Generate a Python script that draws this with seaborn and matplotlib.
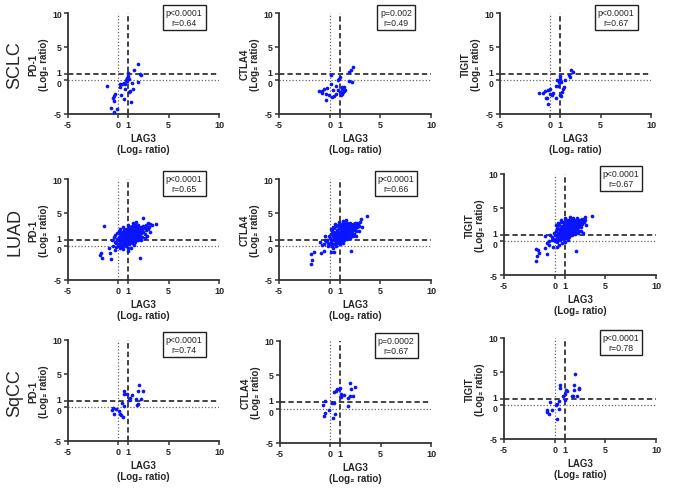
import matplotlib
matplotlib.use("Agg")
import matplotlib.pyplot as plt
import matplotlib.transforms as mtransforms
import seaborn as sns
import pandas as pd

# ---------------- data ----------------
row_names = ["SCLC", "LUAD", "SqCC"]
markers = ["PD-1", "CTLA4", "TIGIT"]
x_marker = "LAG3"
ticks = [-5, 0, 1, 5, 10]

stats = [
    ["p<0.0001\nr=0.64", "p=0.002\nr=0.49", "p<0.0001\nr=0.67"],
    ["p<0.0001\nr=0.65", "p<0.0001\nr=0.66", "p<0.0001\nr=0.67"],
    ["p<0.0001\nr=0.74", "p=0.0002\nr=0.67", "p<0.0001\nr=0.78"],
]

sclc_pd1 = [(1.92, 2.38), (1.56, 1.58), (1.0, 1.14), (2.19, 1.0), (2.29, 0.76), (1.0, 0.64),
            (0.89, 0.35), (0.8, 0.0), (1.95, -0.25), (1.36, -0.4), (0.53, -0.45), (0.2, -0.5),
            (-1.09, -0.79), (0.13, -1.0), (0.63, -1.24), (1.46, -1.34), (1.19, -1.53), (1.06, -1.73),
            (-0.3, -2.08), (0.23, -2.23), (-0.4, -2.33), (-0.5, -2.57), (0.53, -2.82), (-0.4, -3.12),
            (1.23, -3.22), (-0.7, -4.1), (-0.13, -4.2), (-0.46, -4.65), (0.33, -0.55), (0.89, -0.1),
            (1.09, 0.2), (0.7, -0.5)]
sclc_ctla4 = [(2.32, 1.98), (2.12, 1.58), (1.89, 1.24), (0.18, 0.79), (1.0, 0.45), (0.9, 0.15),
              (0.8, 0.0), (1.92, -0.1), (2.22, -0.2), (0.15, -0.5), (0.67, -0.84), (-0.22, -1.14),
              (1.23, -0.99), (1.43, -0.99), (-0.55, -1.34), (-1.08, -1.63), (-0.71, -1.63), (0.28, -1.49),
              (0.84, -1.49), (1.17, -1.34), (1.5, -1.49), (1.33, -1.78), (1.0, -1.73), (1.17, -1.98),
              (-0.38, -1.98), (0.67, -1.98), (-0.05, -2.23), (0.47, -2.33), (0.21, -2.48), (-0.32, -2.87),
              (1.4, -1.63), (1.07, -2.23), (-0.78, -1.83)]
sclc_tigit = [(2.1, 1.53), (2.27, 1.24), (1.87, 0.74), (1.94, 0.54), (0.95, 0.64), (0.98, 0.15),
              (0.68, 0.1), (1.44, 0.05), (0.85, -0.25), (1.05, -0.25), (0.55, -0.84), (0.78, -0.84),
              (1.34, -0.99), (1.28, -1.34), (-0.04, -1.34), (-0.21, -1.44), (-0.54, -1.58), (-1.1, -1.83),
              (-0.71, -1.83), (-0.04, -1.98), (0.29, -1.83), (1.14, -1.73), (0.98, -2.13), (0.55, -2.62),
              (-0.44, -2.57), (-0.31, -2.57), (-0.21, -3.56), (1.08, -2.33), (0.12, -2.23)]

luad_pd1 = [(-1.42, 3.09), (2.45, 4.23), (3.77, 3.34), (-1.69, -1.0), (-1.79, -1.35), (-1.59, -1.69),
            (-0.86, -1.0), (-0.7, -1.84), (2.19, -1.74), (0.96, -0.7), (-0.36, -0.5), (-0.2, 0.44),
            (-0.5, 0.1), (-0.9, -0.3), (3.3, 3.1), (3.1, 3.3), (2.9, 3.4),
            (0.0, 0.9), (0.1, 0.3), (0.1, 1.4), (0.2, 0.7), (0.2, 1.9), (0.3, 0.1), (0.3, 1.1), (0.4, 0.5),
            (0.4, 1.6), (0.4, 2.2), (0.5, 0.9), (0.5, 1.3), (0.6, 0.3), (0.6, 1.8), (0.6, 2.4), (0.7, 0.7),
            (0.7, 1.2), (0.7, 2.0), (0.8, 1.0), (0.8, 1.5), (0.8, 2.6), (0.9, 0.4), (0.9, 1.8), (0.9, 2.2),
            (1.0, 0.8), (1.0, 1.3), (1.0, 2.5), (1.1, 1.1), (1.1, 1.6), (1.1, 2.0), (1.2, 0.6), (1.2, 1.4),
            (1.2, 2.3), (1.2, 2.9), (1.3, 1.0), (1.3, 1.8), (1.3, 2.6), (1.4, 1.3), (1.4, 2.1), (1.4, 3.0),
            (1.5, 0.8), (1.5, 1.7), (1.5, 2.4), (1.6, 1.2), (1.6, 2.0), (1.6, 2.8), (1.7, 1.5), (1.7, 2.3),
            (1.7, 3.1), (1.8, 1.0), (1.8, 1.9), (1.8, 2.6), (1.9, 1.4), (1.9, 2.2), (1.9, 2.9), (2.0, 1.8),
            (2.0, 2.5), (2.0, 3.2), (2.1, 1.2), (2.1, 2.1), (2.1, 2.8), (2.2, 1.6), (2.2, 2.4), (2.3, 2.0),
            (2.3, 2.9), (2.4, 1.4), (2.4, 2.6), (2.5, 2.2), (2.5, 3.0), (2.6, 1.9), (2.6, 2.7), (2.7, 2.4),
            (2.8, 2.9), (2.9, 2.6), (3.0, 2.9), (-0.3, 0.6), (-0.1, 1.1), (-0.2, -0.1), (0.0, 0.0),
            (0.2, -0.3), (0.5, 0.0), (0.8, 0.1), (1.1, 0.3), (1.4, 0.5), (1.7, 0.7), (2.0, 0.9), (2.3, 1.0),
            (0.3, 1.7), (0.6, 1.5), (0.9, 1.1), (1.0, 1.7), (1.3, 2.2), (1.5, 2.0), (1.6, 1.6), (1.8, 2.3),
            (2.2, 2.1), (0.7, 0.4), (0.4, 1.0), (1.1, 2.7), (1.4, 1.6), (1.9, 1.7), (2.4, 2.2), (2.7, 3.1),
            (-0.4, 1.4), (-0.1, 2.0), (0.1, 2.3), (0.2, 2.6), (0.5, 2.9), (1.0, 3.2), (1.5, 3.5),
            (1.8, 3.6), (0.5, -0.4), (1.0, -0.3), (1.3, -0.2), (1.6, 0.2), (2.6, 1.2), (2.8, 1.6),
            (3.1, 2.2), (-0.6, 0.9), (-0.3, 1.7)]

luad_ctla4 = [(3.67, 4.57), (3.14, 4.13), (-1.8, -2.68), (-1.7, -1.99), (-1.8, -1.1), (-1.5, -0.85),
              (-0.88, -1.0), (-0.6, -0.7), (0.11, -0.85), (0.44, -0.9), (2.09, -0.7), (-0.98, 0.57),
              (-0.48, 1.5), (-0.32, 0.77), (-0.6, 0.3), (-0.2, 0.1), (0.3, -0.3),
              (0.0, 1.2), (0.1, 0.6), (0.1, 1.8), (0.2, 1.0), (0.2, 2.3), (0.3, 0.4), (0.3, 1.5), (0.4, 0.9),
              (0.4, 2.0), (0.4, 2.7), (0.5, 1.3), (0.5, 1.7), (0.6, 0.7), (0.6, 2.2), (0.6, 3.0), (0.7, 1.1),
              (0.7, 1.6), (0.7, 2.5), (0.8, 1.4), (0.8, 1.9), (0.8, 3.1), (0.9, 0.8), (0.9, 2.2), (0.9, 2.7),
              (1.0, 1.2), (1.0, 1.7), (1.0, 3.0), (1.1, 1.5), (1.1, 2.0), (1.1, 2.5), (1.2, 1.0), (1.2, 1.8),
              (1.2, 2.8), (1.2, 3.3), (1.3, 1.4), (1.3, 2.2), (1.3, 3.0), (1.4, 1.7), (1.4, 2.5), (1.4, 3.4),
              (1.5, 1.2), (1.5, 2.1), (1.5, 2.9), (1.6, 1.6), (1.6, 2.4), (1.6, 3.2), (1.7, 1.9), (1.7, 2.7),
              (1.7, 3.5), (1.8, 1.4), (1.8, 2.3), (1.8, 3.0), (1.9, 1.8), (1.9, 2.6), (1.9, 3.3), (2.0, 2.2),
              (2.0, 2.9), (2.0, 3.5), (2.1, 1.6), (2.1, 2.5), (2.1, 3.2), (2.2, 2.0), (2.2, 2.8), (2.3, 2.4),
              (2.3, 3.3), (2.4, 1.8), (2.4, 3.0), (2.5, 2.6), (2.5, 3.4), (2.6, 2.3), (2.6, 3.1), (2.7, 2.8),
              (2.8, 3.3), (2.9, 3.0), (3.0, 3.6), (-0.3, 0.9), (-0.1, 1.5), (-0.2, 0.5), (0.0, 0.3),
              (0.2, 0.1), (0.5, 0.4), (0.8, 0.5), (1.1, 0.7), (1.4, 0.9), (1.7, 1.1), (2.0, 1.3), (2.3, 1.5),
              (0.3, 2.1), (0.6, 1.9), (0.9, 1.5), (1.0, 2.2), (1.3, 2.7), (1.5, 2.5), (1.6, 2.0), (1.8, 2.7),
              (2.2, 2.5), (0.7, 0.8), (0.4, 1.3), (1.1, 3.1), (1.4, 2.0), (1.9, 2.1), (2.4, 2.7), (2.7, 3.5),
              (-0.5, 1.0), (0.1, 2.6), (0.3, 2.9), (0.5, 3.3), (0.9, 3.6), (1.3, 3.8), (1.6, 3.9),
              (0.6, 0.1), (1.0, 0.3), (1.3, 0.5), (2.6, 1.6), (2.9, 2.3), (3.2, 2.9), (-0.8, 0.2)]

luad_tigit = [(3.66, 3.78), (2.99, 3.64), (-1.86, -2.97), (-1.73, -2.14), (-1.56, -1.79), (-1.8, -1.15),
              (-1.63, -1.3), (-0.8, -1.89), (2.07, -1.49), (-0.97, -1.0), (-0.14, -0.9), (0.2, -0.8),
              (-0.97, 0.82), (2.83, 1.17), (-0.6, -0.5), (-0.3, 0.2), (0.4, -0.5),
              (0.0, 1.0), (0.1, 0.4), (0.1, 1.6), (0.2, 0.8), (0.2, 2.0), (0.3, 0.2), (0.3, 1.3), (0.4, 0.7),
              (0.4, 1.8), (0.4, 2.5), (0.5, 1.1), (0.5, 1.5), (0.6, 0.5), (0.6, 2.0), (0.6, 2.8), (0.7, 0.9),
              (0.7, 1.4), (0.7, 2.3), (0.8, 1.2), (0.8, 1.7), (0.8, 2.9), (0.9, 0.6), (0.9, 2.0), (0.9, 2.5),
              (1.0, 1.0), (1.0, 1.5), (1.0, 3.5), (1.1, 1.3), (1.1, 1.8), (1.1, 2.3), (1.2, 0.8), (1.2, 1.6),
              (1.2, 2.6), (1.2, 3.1), (1.3, 1.2), (1.3, 2.0), (1.3, 2.8), (1.4, 1.5), (1.4, 2.3), (1.4, 3.2),
              (1.5, 1.0), (1.5, 1.9), (1.5, 2.7), (1.6, 1.4), (1.6, 2.2), (1.6, 3.0), (1.7, 1.7), (1.7, 2.5),
              (1.7, 3.3), (1.8, 1.2), (1.8, 2.1), (1.8, 2.8), (1.9, 1.6), (1.9, 2.4), (1.9, 3.1), (2.0, 2.0),
              (2.0, 2.7), (2.2, 3.5), (2.1, 1.4), (2.1, 2.3), (2.1, 3.0), (2.2, 1.8), (2.2, 2.6), (2.3, 2.2),
              (2.3, 3.1), (2.4, 1.6), (2.4, 2.8), (2.5, 2.4), (2.5, 3.2), (2.6, 2.1), (2.6, 2.9), (2.7, 2.6),
              (2.8, 3.1), (2.9, 2.8), (3.0, 3.2), (-0.3, 0.7), (-0.1, 1.3), (-0.2, 0.3), (0.0, 0.1),
              (0.2, -0.1), (0.5, 0.2), (0.8, 0.3), (1.1, 0.5), (1.4, 0.7), (1.7, 0.9), (2.0, 1.1), (2.3, 1.3),
              (0.3, 1.9), (0.6, 1.7), (0.9, 1.3), (1.0, 2.0), (1.3, 2.5), (1.5, 2.3), (1.6, 1.8), (1.8, 2.5),
              (2.2, 2.3), (0.7, 0.6), (0.4, 1.1), (1.1, 2.9), (1.4, 1.8), (1.9, 1.9), (2.4, 2.5), (2.7, 3.3),
              (-0.5, 0.9), (0.1, 2.4), (0.3, 2.7), (0.6, 3.2), (1.5, 3.6), (1.8, 3.5), (0.7, -0.3),
              (1.0, -0.1), (1.3, 0.2), (2.6, 1.5), (3.1, 2.4), (-0.6, 0.1), (-0.8, -0.3)]

sqcc_pd1 = [(2.02, 3.39), (1.99, 2.4), (2.45, 2.5), (0.6, 2.5), (0.56, 2.0), (0.86, 1.91), (1.39, 1.76),
            (1.19, 1.41), (1.06, 1.16), (1.79, 1.21), (2.28, 1.26), (1.82, 0.37), (1.99, 0.52),
            (0.36, 0.67), (0.53, 0.13), (-0.53, -0.06), (-0.2, -0.21), (-0.66, -0.45), (-0.46, -0.95),
            (0.03, -0.55), (0.13, -0.95), (0.23, -1.1), (0.43, -1.45)]
sqcc_ctla4 = [(1.95, 3.83), (2.42, 3.29), (2.05, 2.95), (0.96, 3.04), (0.7, 2.95), (0.53, 2.7),
              (0.33, 2.55), (0.83, 3.0), (1.09, 2.25), (1.32, 2.0), (1.95, 1.95), (2.25, 1.95),
              (1.75, 1.61), (1.06, 1.71), (-0.5, 1.12), (0.17, 0.92), (0.4, 0.82), (-0.7, 0.52),
              (1.75, 0.37), (-0.17, -0.15), (-0.53, -0.65), (-0.63, -0.99), (0.5, -0.8), (0.26, -1.39)]
sqcc_tigit = [(1.96, 4.7), (1.92, 3.07), (0.54, 2.97), (0.54, 2.62), (2.39, 2.57), (2.42, 2.38),
              (1.92, 2.23), (1.07, 2.23), (1.26, 2.13), (1.03, 1.63), (0.8, 1.39), (1.69, 1.44),
              (1.79, 1.34), (2.19, 1.44), (1.03, 0.85), (-0.49, 0.54), (0.4, 0.59), (0.27, 0.25),
              (0.14, 0.1), (0.44, -0.59), (-0.22, -0.74), (-0.78, -0.74), (-0.71, -0.99), (-0.58, -1.24),
              (0.21, -1.98)]

panel_data = [[sclc_pd1, sclc_ctla4, sclc_tigit],
              [luad_pd1, luad_ctla4, luad_tigit],
              [sqcc_pd1, sqcc_ctla4, sqcc_tigit]]

# ---------------- style ----------------
sns.set_style("ticks")
plt.rcParams["font.family"] = ["Liberation Sans", "DejaVu Sans"]

W, H = 680, 489
fig = plt.figure(figsize=(W / 100, H / 100), dpi=100)

# axes boxes in pixels (left, top, right, bottom)
boxes = [
    [(68, 14, 219, 115), (279, 14, 431, 115), (500, 14, 651, 115)],
    [(68, 180, 219, 281), (279, 180, 431, 281), (504, 175, 656, 276)],
    [(68, 341, 219, 442), (280, 342, 431, 444), (504, 339, 656, 440)],
]
spine_col = "#333333"
unit_label = "(Log\u2082 ratio)"
for r in range(3):
    for c in range(3):
        l, t, rr, b = boxes[r][c]
        ax = fig.add_axes([l / W, 1 - b / H, (rr - l) / W, (b - t) / H])
        pts = panel_data[r][c]
        df = pd.DataFrame(pts, columns=["x", "y"])
        ax.axvline(0, color="#666666", ls=(0, (1, 1.6)), lw=0.9, zorder=1)
        ax.axhline(0, color="#666666", ls=(0, (1, 1.6)), lw=0.9, zorder=1)
        ax.axvline(1, color="#111111", ls=(0, (3.5, 2)), lw=1.1, zorder=1)
        ax.axhline(1, color="#111111", ls=(0, (3.5, 2)), lw=1.1, zorder=1)
        sns.scatterplot(data=df, x="x", y="y", ax=ax, color="#0a14ff", s=7,
                        linewidth=0, zorder=3, clip_on=False)
        ax.set_xlim(-5, 10)
        ax.set_ylim(-5, 10)
        ax.set_xticks(ticks)
        ax.set_yticks(ticks)
        ax.set_xticklabels([str(t) for t in ticks], fontsize=6.5, fontweight="bold")
        ax.set_yticklabels([str(t) for t in ticks], fontsize=6.3, fontweight="bold")
        ax.tick_params(length=3, width=1.1, color=spine_col, pad=1.5)
        # nudge the crowded "1" and "0" y labels apart slightly
        for tk, val in zip(ax.yaxis.get_major_ticks(), ticks):
            if val == 1:
                dy = 1.6 / 72
            elif val == 0:
                dy = -1.6 / 72
            else:
                continue
            lab = tk.label1
            lab.set_transform(lab.get_transform() +
                              mtransforms.ScaledTranslation(0, dy, fig.dpi_scale_trans))
        for s in ["top", "right"]:
            ax.spines[s].set_visible(False)
        for s in ["left", "bottom"]:
            ax.spines[s].set_color(spine_col)
            ax.spines[s].set_linewidth(1.3)
        ax.set_xlabel(x_marker + "\n" + unit_label, fontsize=7, fontweight="bold",
                      labelpad=3, linespacing=1.05)
        ax.set_ylabel(markers[c] + "\n" + unit_label, fontsize=7, fontweight="bold",
                      labelpad=2, linespacing=1.05)
        ax.text(0.77, 0.955, stats[r][c], transform=ax.transAxes, ha="center", va="center",
                fontsize=6.3, linespacing=1.1, zorder=5,
                bbox=dict(boxstyle="square,pad=0.35", fc="white", ec="#222222", lw=1.0))

row_centers = [65, 232, 393]
for name, yc in zip(row_names, row_centers):
    fig.text(15 / W, 1 - yc / H, name, rotation=90, ha="center", va="center", fontsize=13)

fig.savefig("out.png", dpi=100)
